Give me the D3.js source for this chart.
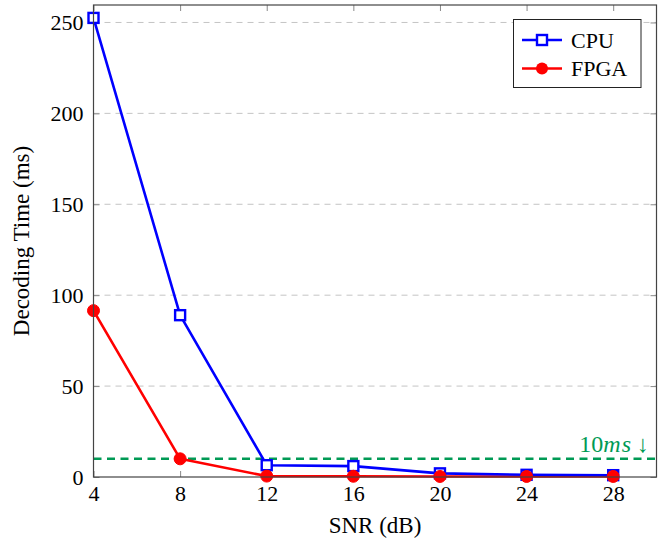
<!DOCTYPE html>
<html><head><meta charset="utf-8">
<script src="https://cdn.jsdelivr.net/npm/d3@7"></script>
<style>body{margin:0;background:#fff}</style>
</head><body>
<svg id="c" width="670" height="540"></svg>
<script>
const snr = [4, 8, 12, 16, 20, 24, 28];
const cpu = [252.5, 89, 6.5, 6, 2, 1.2, 1];
const fpga = [91.5, 10, 0.5, 0.4, 0.3, 0.3, 0.3];
const yTicks = [0, 50, 100, 150, 200, 250];
const threshold = 10;

const font = "'Liberation Serif', 'DejaVu Serif', serif";
const svg = d3.select("#c");
const L = 93.5, R = 656.5, T = 5, B = 477;
const x = d3.scaleLinear().domain([4, 30]).range([L, R]);
const y = d3.scaleLinear().domain([0, 259.6]).range([B, T]);

// grid
svg.append("g").selectAll("line").data(yTicks.filter(d => d > 0)).join("line")
  .attr("x1", L).attr("x2", R).attr("y1", d => y(d)).attr("y2", d => y(d))
  .attr("stroke", "#c4c4c4").attr("stroke-width", 1).attr("stroke-dasharray", "6,5");

// x ticks (bottom & top, inward)
const gx = svg.append("g").attr("transform", `translate(0,${B})`)
  .call(d3.axisBottom(x).tickValues(snr).tickSize(-6).tickPadding(8).tickFormat(d3.format("d")));
gx.select(".domain").remove();
gx.selectAll("line").attr("stroke", "#888");
gx.selectAll("text").attr("font-family", font).attr("font-size", 22).attr("fill", "#000").attr("dy", "0.71em");
const gxt = svg.append("g").attr("transform", `translate(0,${T})`)
  .call(d3.axisTop(x).tickValues(snr).tickSize(-6).tickFormat(""));
gxt.select(".domain").remove();
gxt.selectAll("line").attr("stroke", "#888");

// y ticks
const gy = svg.append("g").attr("transform", `translate(${L},0)`)
  .call(d3.axisLeft(y).tickValues(yTicks).tickSize(-6).tickPadding(10).tickFormat(d3.format("d")));
gy.select(".domain").remove();
gy.selectAll("line").attr("stroke", "#888");
gy.selectAll("text").attr("font-family", font).attr("font-size", 22).attr("fill", "#000").attr("dy", "0.33em");
const gyr = svg.append("g").attr("transform", `translate(${R},0)`)
  .call(d3.axisRight(y).tickValues(yTicks).tickSize(-6).tickFormat(""));
gyr.select(".domain").remove();
gyr.selectAll("line").attr("stroke", "#888");

// threshold line
svg.append("line").attr("x1", L).attr("x2", R).attr("y1", y(threshold)).attr("y2", y(threshold))
  .attr("stroke", "#009a55").attr("stroke-width", 2.6).attr("stroke-dasharray", "8,5.5");
const tl = svg.append("text").attr("x", 649).attr("y", 452).attr("text-anchor", "end")
  .attr("font-family", font).attr("font-size", 24).attr("fill", "#009a55");
tl.append("tspan").text("10");
tl.append("tspan").attr("font-style", "italic").attr("letter-spacing", 1).text("ms");
tl.append("tspan").attr("dx", 5).text("↓");

const line = d3.line().x((d, i) => x(snr[i])).y(d => y(d));

// FPGA
svg.append("path").datum(fpga).attr("d", line).attr("fill", "none")
  .attr("stroke", "#ff0000").attr("stroke-width", 2.6).attr("stroke-linejoin", "round");
// CPU
svg.append("path").datum(cpu).attr("d", line).attr("fill", "none")
  .attr("stroke", "#0000ff").attr("stroke-width", 2.6).attr("stroke-linejoin", "round");
svg.append("g").selectAll("rect").data(cpu).join("rect")
  .attr("x", (d, i) => x(snr[i]) - 5).attr("y", d => y(d) - 5).attr("width", 10).attr("height", 10)
  .attr("fill", "#fff").attr("stroke", "#0000ff").attr("stroke-width", 2.4);
svg.append("g").selectAll("circle").data(fpga).join("circle")
  .attr("cx", (d, i) => x(snr[i])).attr("cy", d => y(d)).attr("r", 6)
  .attr("fill", "#ff0000").attr("stroke", "#ff0000").attr("stroke-width", 1);

// frame
svg.append("rect").attr("x", L).attr("y", T).attr("width", R - L).attr("height", B - T)
  .attr("fill", "none").attr("stroke", "#444").attr("stroke-width", 1.2);

// legend
const lg = svg.append("g");
lg.append("rect").attr("x", 513.5).attr("y", 19.5).attr("width", 127.5).attr("height", 68)
  .attr("fill", "#fff").attr("stroke", "#222").attr("stroke-width", 1);
const items = [{name: "CPU", c: "#0000ff", m: "s"}, {name: "FPGA", c: "#ff0000", m: "c"}];
items.forEach((it, i) => {
  const cy = 40 + i * 28.5;
  lg.append("line").attr("x1", 522).attr("x2", 562).attr("y1", cy).attr("y2", cy)
    .attr("stroke", it.c).attr("stroke-width", 2.6);
  if (it.m === "s") lg.append("rect").attr("x", 537).attr("y", cy - 5).attr("width", 10).attr("height", 10)
    .attr("fill", "#fff").attr("stroke", it.c).attr("stroke-width", 2.4);
  else lg.append("circle").attr("cx", 542).attr("cy", cy).attr("r", 6).attr("fill", it.c);
  lg.append("text").attr("x", 571).attr("y", cy).attr("dy", "0.35em")
    .attr("font-family", font).attr("font-size", 22).attr("fill", "#000").text(it.name);
});

// axis labels
svg.append("text").attr("x", (L + R) / 2).attr("y", 533).attr("text-anchor", "middle")
  .attr("font-family", font).attr("font-size", 23).attr("fill", "#000").text("SNR (dB)");
svg.append("text").attr("transform", `translate(29,${(T + B) / 2}) rotate(-90)`).attr("text-anchor", "middle")
  .attr("font-family", font).attr("font-size", 23).attr("fill", "#000").text("Decoding Time (ms)");
</script>
</body></html>
